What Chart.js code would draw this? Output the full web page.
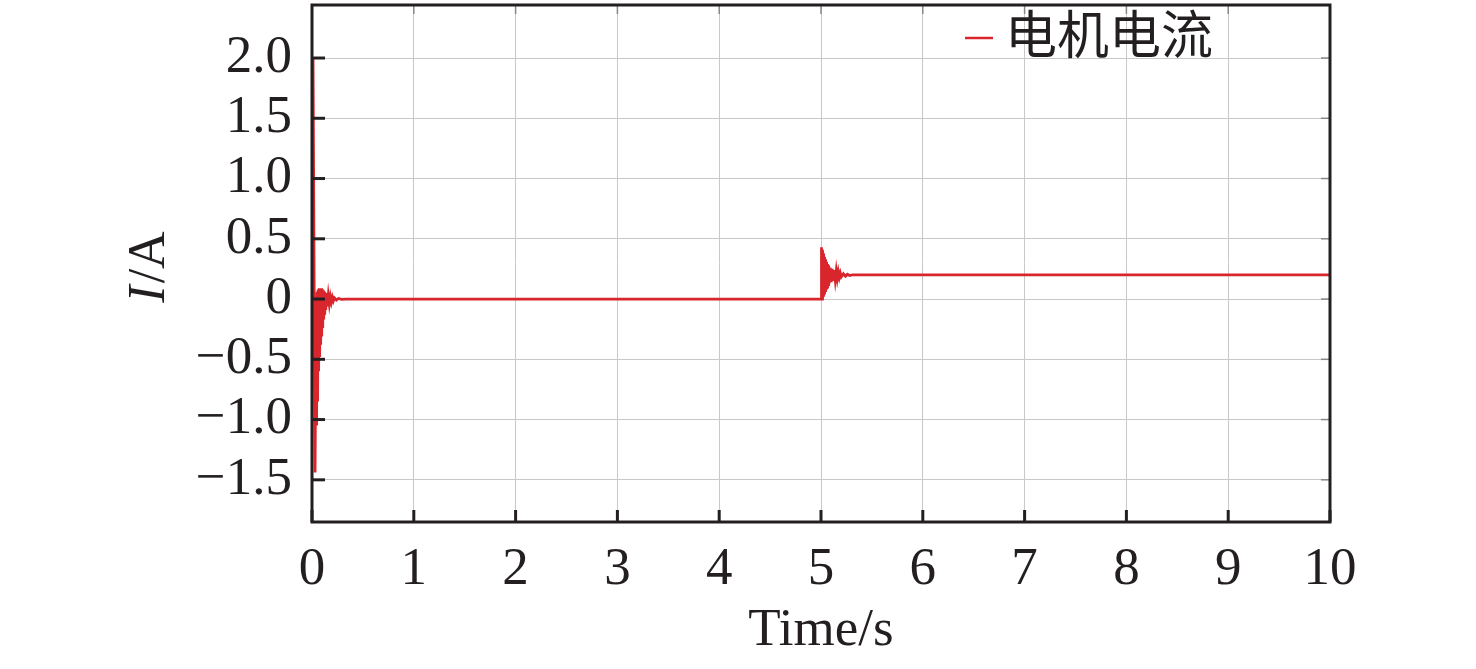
<!DOCTYPE html>
<html>
<head>
<meta charset="utf-8">
<script src="https://cdn.jsdelivr.net/npm/chart.js@4/dist/chart.umd.min.js"></script>
<style>
  body { margin: 0; background: #fff; }
  #wrap { width: 1476px; height: 669px; position: relative; }
</style>
</head>
<body>
<div id="wrap"><canvas id="chart"></canvas></div>
<script>
// time (s) and motor current (A)
const timeS = [
  0, 0.01, 0.03, 0.04, 0.045, 0.05, 0.055, 0.06, 0.065, 0.07, 0.075, 0.08, 0.085, 0.09,
  0.095, 0.10, 0.105, 0.11, 0.115, 0.12, 0.125, 0.13, 0.135, 0.14, 0.15, 0.16, 0.17,
  0.18, 0.19, 0.20, 0.21, 0.22, 0.24, 0.26, 0.29, 0.33,
  5.0, 5.005, 5.01, 5.015, 5.02, 5.025, 5.03, 5.035, 5.04, 5.045, 5.05, 5.055, 5.06,
  5.065, 5.07, 5.075, 5.08, 5.09, 5.10, 5.11, 5.12, 5.13, 5.14, 5.15, 5.16, 5.17, 5.18,
  5.19, 5.20, 5.22, 5.24, 5.26, 5.28, 5.31, 10
];
const currentA = [
  0, 2.0, -1.44, 0.02, -1.05, 0.06, -0.85, 0.08, -0.6, 0.09, -0.48, 0.09, -0.38, 0.09,
  -0.31, 0.08, -0.24, 0.07, -0.17, 0.06, -0.13, 0.05, -0.09, 0.04, -0.06, 0.03, -0.04,
  0.02, -0.025, 0.015, -0.015, 0.01, -0.008, 0.005, -0.003, 0,
  0, 0.43, 0.0, 0.41, 0.03, 0.38, 0.05, 0.35, 0.07, 0.33, 0.09, 0.31, 0.10,
  0.29, 0.12, 0.28, 0.13, 0.26, 0.14, 0.25, 0.15, 0.24, 0.16, 0.235, 0.17, 0.225, 0.18,
  0.215, 0.185, 0.21, 0.19, 0.205, 0.195, 0.2, 0.2
];
const xTicks = [0, 1, 2, 3, 4, 5, 6, 7, 8, 9, 10];
const yTicks = [-1.5, -1.0, -0.5, 0, 0.5, 1.0, 1.5, 2.0];
const seriesName = '电机电流';
const lineColor = '#d9262c';
const textColor = '#231f20';
const serif = '"Liberation Serif", "Times New Roman", serif';
const cjk = '"Liberation Serif", "Noto Sans CJK SC", serif';

function fmtY(v) {
  if (v === 0) return '0';
  const s = Math.abs(v).toFixed(1);
  return v < 0 ? '\u2212' + s : s;
}

// inward ticks, frame, y title and legend
const decorations = {
  id: 'decorations',
  afterDatasetsDraw(chart) {
    const { ctx, chartArea: a, scales } = chart;
    ctx.save();
    ctx.lineWidth = 3;
    ctx.strokeStyle = '#231f20';
    xTicks.forEach(v => {
      const px = scales.x.getPixelForValue(v);
      ctx.beginPath(); ctx.moveTo(px, a.bottom); ctx.lineTo(px, a.bottom - 12); ctx.stroke();
    });
    yTicks.forEach(v => {
      const py = scales.y.getPixelForValue(v);
      ctx.beginPath(); ctx.moveTo(a.left, py); ctx.lineTo(a.left + 13, py); ctx.stroke();
    });
    // mirrored ticks on top / right, lighter
    ctx.lineWidth = 1.5;
    ctx.strokeStyle = '#888';
    xTicks.forEach(v => {
      const px = scales.x.getPixelForValue(v);
      ctx.beginPath(); ctx.moveTo(px, a.top); ctx.lineTo(px, a.top + 9); ctx.stroke();
    });
    yTicks.forEach(v => {
      const py = scales.y.getPixelForValue(v);
      ctx.beginPath(); ctx.moveTo(a.right, py); ctx.lineTo(a.right - 9, py); ctx.stroke();
    });
    // frame
    ctx.lineWidth = 3;
    ctx.strokeStyle = '#231f20';
    ctx.strokeRect(a.left, a.top, a.right - a.left, a.bottom - a.top);

    // y axis title: italic I + /A
    ctx.translate(150, 268);
    ctx.rotate(-Math.PI / 2);
    ctx.fillStyle = textColor;
    ctx.textBaseline = 'middle';
    ctx.font = 'italic 52px ' + serif;
    const wI = ctx.measureText('I').width;
    ctx.font = '52px ' + serif;
    const wA = ctx.measureText('/A').width;
    const x0 = -(wI + wA) / 2;
    ctx.font = 'italic 52px ' + serif;
    ctx.textAlign = 'left';
    ctx.fillText('I', x0, 0);
    ctx.font = '52px ' + serif;
    ctx.fillText('/A', x0 + wI + 2, 0);
    ctx.restore();

    // legend
    ctx.save();
    ctx.strokeStyle = lineColor;
    ctx.lineWidth = 2.5;
    ctx.beginPath(); ctx.moveTo(965, 38); ctx.lineTo(993, 38); ctx.stroke();
    ctx.fillStyle = textColor;
    ctx.font = '52px ' + cjk;
    ctx.textBaseline = 'middle';
    ctx.textAlign = 'left';
    ctx.fillText(seriesName, 1005, 40);
    ctx.restore();
  }
};

new Chart(document.getElementById('chart'), {
  type: 'line',
  data: {
    datasets: [{
      label: seriesName,
      data: timeS.map((t, i) => ({ x: t, y: currentA[i] })),
      borderColor: lineColor,
      borderWidth: 2.8,
      pointRadius: 0,
      tension: 0,
      fill: false
    }]
  },
  options: {
    responsive: true,
    maintainAspectRatio: false,
    animation: false,
    layout: { padding: { top: 5, right: 146, left: 0, bottom: 0 } },
    plugins: { legend: { display: false }, tooltip: { enabled: false } },
    scales: {
      x: {
        type: 'linear',
        min: 0,
        max: 10,
        afterBuildTicks: s => { s.ticks = xTicks.map(v => ({ value: v })); },
        afterFit: s => { s.height = 147; s.paddingLeft = 0; s.paddingRight = 0; },
        grid: { color: '#c8c8c8', lineWidth: 1, drawTicks: false },
        border: { display: false },
        ticks: {
          padding: 16,
          color: textColor,
          font: { family: serif, size: 53 },
          maxRotation: 0,
          callback: v => String(v)
        },
        title: {
          display: true,
          text: 'Time/s',
          color: textColor,
          font: { family: serif, size: 53 },
          padding: { top: 0, bottom: 6 }
        }
      },
      y: {
        min: -1.85,
        max: 2.44,
        afterBuildTicks: s => { s.ticks = yTicks.map(v => ({ value: v })); },
        afterFit: s => { s.width = 312; s.paddingTop = 0; s.paddingBottom = 0; },
        grid: { color: '#c8c8c8', lineWidth: 1, drawTicks: false },
        border: { display: false },
        ticks: {
          padding: 20,
          color: textColor,
          font: { family: serif, size: 53 },
          callback: v => fmtY(v)
        }
      }
    }
  },
  plugins: [decorations]
});
</script>
</body>
</html>
